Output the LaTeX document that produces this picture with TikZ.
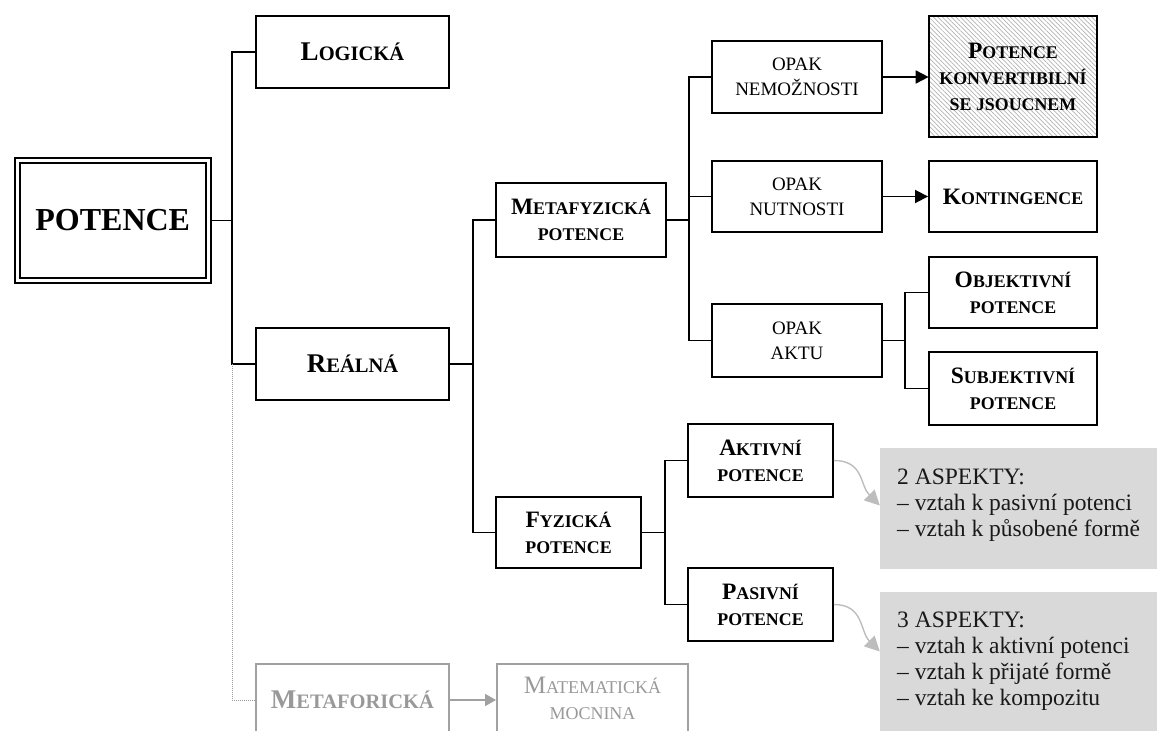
\documentclass[tikz,border=0pt]{standalone}
\usepackage{fontspec}
\setmainfont{Liberation Serif}
\usetikzlibrary{arrows.meta,patterns.meta}
\makeatletter
\newcommand\smc[1]{{\fontsize{\fpeval{0.76*\f@size}}{\f@baselineskip}\selectfont #1}}
\newcommand\smr[1]{{\fontsize{\fpeval{0.72*\f@size}}{\f@baselineskip}\selectfont #1}}
\makeatother
\tikzset{
  box/.style={draw, line width=1.9pt, fill=white, inner sep=2pt, align=center,
    font=\fontsize{23.5}{26}\selectfont\bfseries},
  bigbox/.style={box, font=\fontsize{27}{30}\selectfont\bfseries},
  opakbox/.style={box, font=\fontsize{19}{25}\selectfont},
  ghost/.style={draw=black!37, text=black!40},
  conn/.style={line width=1.8pt},
  blackarrow/.style={conn, -{Triangle[length=13pt,width=13pt]}},
  grayarrow/.style={line width=1.7pt, draw=black!37, -{Triangle[length=11pt,width=12pt]}},
  curvearrow/.style={line width=1.4pt, draw=black!26, -{Triangle[length=15pt,width=15pt]}},
  dotline/.style={draw=black!40, line width=1pt, dash pattern=on 1pt off 1pt},
  aspbox/.style={fill=black!15, inner sep=0pt},
  asptext/.style={font=\fontsize{23.5}{26}\selectfont, align=left, inner sep=0pt, anchor=north west, text=black!90},
}
\begin{document}
\begin{tikzpicture}[x=1pt,y=-1pt]
\useasboundingbox (0,0) rectangle (1157,731);
\clip (0,0) rectangle (1157,731);

% main node
\node[draw, double, line width=2pt, double distance=3pt, fill=white, outer sep=3.5pt,
  minimum width=191.5, minimum height=120, font=\fontsize{32}{36}\selectfont\bfseries]
  (potence) at (112.75,220.5) {POTENCE};

% level 1
\node[bigbox, minimum width=193, minimum height=72] (logicka) at (352.5,52) {L\smc{OGICKÁ}};
\node[bigbox, minimum width=193, minimum height=72] (realna) at (352.5,364) {R\smc{EÁLNÁ}};
\node[bigbox, ghost, minimum width=193, minimum height=72] (metaforicka) at (352.5,700) {M\smc{ETAFORICKÁ}};

% level 2
\node[box, minimum width=170, minimum height=74] (metafyz) at (581,220) {M\smc{ETAFYZICKÁ}\\\smc{POTENCE}};
\node[box, minimum width=145, minimum height=71] (fyz) at (568.5,532.5) {F\smc{YZICKÁ}\\\smc{POTENCE}};
\node[box, ghost, font=\fontsize{25}{26}\selectfont, minimum width=191, minimum height=68] (matem) at (592.5,698) {M\smr{ATEMATICKÁ}\\\smr{MOCNINA}};

% level 3
\node[opakbox, minimum width=170, minimum height=72] (opak1) at (797,77) {OPAK\\NEMOŽNOSTI};
\node[opakbox, minimum width=170, minimum height=71] (opak2) at (797,196.5) {OPAK\\NUTNOSTI};
\node[opakbox, minimum width=170, minimum height=73] (opak3) at (797,340.5) {OPAK\\AKTU};
\node[box, minimum width=145, minimum height=73] (aktiv) at (760.5,460.5) {A\smc{KTIVNÍ}\\\smc{POTENCE}};
\node[box, minimum width=145, minimum height=73] (pasiv) at (760.5,604.5) {P\smc{ASIVNÍ}\\\smc{POTENCE}};

% level 4
\node[box, fill=none, pattern={Lines[angle=-45,distance=3.2pt,line width=0.7pt]}, pattern color=black!30,
  minimum width=168, minimum height=121] (potkonv) at (1013,76.5)
  {P\smc{OTENCE}\\\smc{KONVERTIBILNÍ}\\\smc{SE JSOUCNEM}};
\node[box, minimum width=168, minimum height=71] (konting) at (1013,196.5) {K\smc{ONTINGENCE}};
\node[box, minimum width=168, minimum height=71] (objekt) at (1013,292.5) {O\smc{BJEKTIVNÍ}\\\smc{POTENCE}};
\node[box, minimum width=168, minimum height=73] (subjekt) at (1013,388.5) {S\smc{UBJEKTIVNÍ}\\\smc{POTENCE}};

% aspect boxes
\node[aspbox, minimum width=280, minimum height=121] (asp1) at (1020,508.5) {};
\node[aspbox, minimum width=280, minimum height=139] (asp2) at (1020,661.5) {};
\node[asptext] (asp1t) at (897,469) {2 ASPEKTY:\\– vztah k pasivní potenci\\– vztah k působené formě};
\node[asptext] (asp2t) at (897,612) {3 ASPEKTY:\\– vztah k aktivní potenci\\– vztah k přijaté formě\\– vztah ke kompozitu};

% junctions
\coordinate (j1) at (232,220.5);
\coordinate (j2) at (473,364);
\coordinate (j3) at (689,220);
\coordinate (j4) at (905,340.5);
\coordinate (j5) at (665,532.5);

\draw[conn] (potence.east) -- (j1);
\draw[conn] (logicka.west) -| (j1);
\draw[conn] (realna.west) -| (j1);
\draw[dotline] (realna.west -| j1) |- (metaforicka.west);

\draw[conn] (realna.east) -- (j2);
\draw[conn] (metafyz.west) -| (j2);
\draw[conn] (fyz.west) -| (j2);

\draw[conn] (metafyz.east) -- (j3);
\draw[conn] (opak1.west) -| (j3);
\draw[conn] (opak2.west) -| (j3);
\draw[conn] (opak3.west) -| (j3);

\draw[conn] (opak3.east) -- (j4);
\draw[conn] (objekt.west) -| (j4);
\draw[conn] (subjekt.west) -| (j4);

\draw[conn] (fyz.east) -- (j5);
\draw[conn] (aktiv.west) -| (j5);
\draw[conn] (pasiv.west) -| (j5);

\draw[blackarrow] (opak1.east) -- (opak1.east -| potkonv.west);
\draw[blackarrow] (opak2.east) -- (opak2.east -| konting.west);
\draw[grayarrow] (metaforicka.east) -- (metaforicka.east -| matem.west);

\draw[curvearrow] (aktiv.east) .. controls +(30,0) and +(-20,-20) .. ([yshift=3pt]asp1.west);
\draw[curvearrow] (pasiv.east) .. controls +(30,0) and +(-20,-20) .. ([yshift=10pt]asp2.west);
\end{tikzpicture}
\end{document}
